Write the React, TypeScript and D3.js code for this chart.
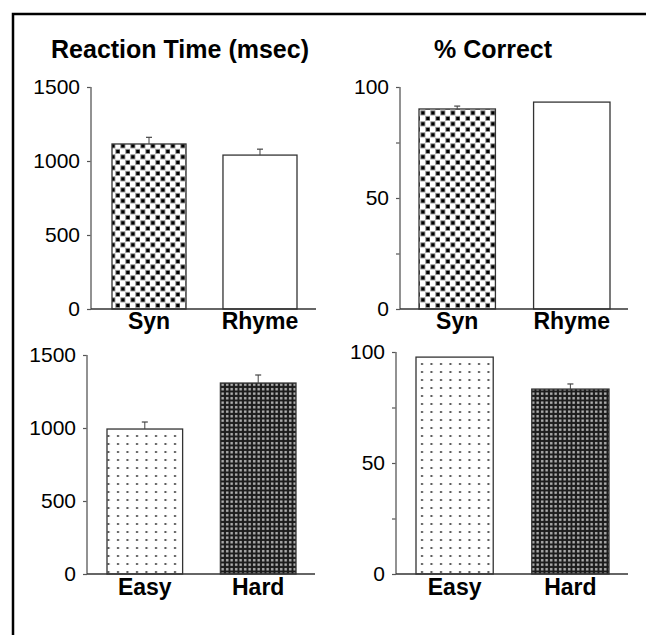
import * as d3 from "d3"
import { useEffect, useRef } from "react"

// data
const taskCats = ["Syn", "Rhyme"]
const diffCats = ["Easy", "Hard"]
const rtTaskVals = [1115, 1040]
const rtTaskErr = [45, 40]
const pcTaskVals = [90.1, 93.2]
const pcTaskErr = [1.3, 0]
const rtDiffVals = [993, 1308]
const rtDiffErr = [48, 55]
const pcDiffVals = [97.7, 83.3]
const pcDiffErr = [0, 2.3]
const rtTicks = [0, 500, 1000, 1500]
const pcTicks = [0, 25, 50, 75, 100]
const pcLabeled = [0, 50, 100]

export default function App() {
  const ref = useRef<SVGSVGElement>(null)

  useEffect(() => {
    const svg = d3.select(ref.current)
    svg.selectAll("*").remove()

    const defs = svg.append("defs")

    // Syn: staggered black squares
    const p1 = defs.append("pattern").attr("id", "pSyn")
      .attr("patternUnits", "userSpaceOnUse").attr("width", 10).attr("height", 11)
    p1.append("rect").attr("width", 10).attr("height", 11).attr("fill", "#fff")
    p1.append("rect").attr("x", 0.8).attr("y", 0.8).attr("width", 4.2).attr("height", 4.2)
      .attr("fill", "#000").attr("stroke", "#999").attr("stroke-width", 0.9)
    p1.append("rect").attr("x", 5.8).attr("y", 6.3).attr("width", 4.2).attr("height", 4.2)
      .attr("fill", "#000").attr("stroke", "#999").attr("stroke-width", 0.9)

    // Easy: sparse dots
    const p2 = defs.append("pattern").attr("id", "pEasy")
      .attr("patternUnits", "userSpaceOnUse").attr("width", 9.5).attr("height", 8)
    p2.append("rect").attr("width", 9.5).attr("height", 8).attr("fill", "#fff")
    p2.append("rect").attr("x", 3).attr("y", 3).attr("width", 2).attr("height", 2).attr("fill", "#555")

    // Hard: dense dark grid
    const p3 = defs.append("pattern").attr("id", "pHard")
      .attr("patternUnits", "userSpaceOnUse").attr("width", 4.5).attr("height", 4.5)
    p3.append("rect").attr("width", 4.5).attr("height", 4.5).attr("fill", "#1c1c1c")
    p3.append("rect").attr("x", 1).attr("y", 1).attr("width", 2.4).attr("height", 2.4).attr("fill", "#b8b8b8")

    const font = "Liberation Sans, Arial, Helvetica, sans-serif"

    // frame (cropped on right/bottom)
    svg.append("path").attr("d", "M13,700V14H700")
      .attr("fill", "none").attr("stroke", "#000").attr("stroke-width", 2.5)

    svg.append("text").attr("x", 180).attr("y", 58).attr("text-anchor", "middle")
      .attr("font-family", font).attr("font-weight", "bold").attr("font-size", 25)
      .text("Reaction Time (msec)")
    svg.append("text").attr("x", 493).attr("y", 58).attr("text-anchor", "middle")
      .attr("font-family", font).attr("font-weight", "bold").attr("font-size", 25)
      .text("% Correct")

    const panels = [
      { cats: taskCats, vals: rtTaskVals, err: rtTaskErr, max: 1500, ticks: rtTicks, labeled: rtTicks,
        axisX: 91, top: 87, zero: 309, xEnd: 316, bars: [112, 297], fills: ["url(#pSyn)", "#fff"], labY: 329 },
      { cats: taskCats, vals: pcTaskVals, err: pcTaskErr, max: 100, ticks: pcTicks, labeled: pcLabeled,
        axisX: 400, top: 87, zero: 309, xEnd: 628, bars: [419, 610], fills: ["url(#pSyn)", "#fff"], labY: 329 },
      { cats: diffCats, vals: rtDiffVals, err: rtDiffErr, max: 1500, ticks: rtTicks, labeled: rtTicks,
        axisX: 87, top: 355, zero: 574, xEnd: 315, bars: [107, 296], fills: ["url(#pEasy)", "url(#pHard)"], labY: 595 },
      { cats: diffCats, vals: pcDiffVals, err: pcDiffErr, max: 100, ticks: pcTicks, labeled: pcLabeled,
        axisX: 396, top: 352, zero: 574, xEnd: 628, bars: [416, 609], fills: ["url(#pEasy)", "url(#pHard)"], labY: 595 },
    ]

    panels.forEach(p => {
      const g = svg.append("g")
      const y = d3.scaleLinear().domain([0, p.max]).range([p.zero, p.top])
      const x = d3.scaleBand().domain(p.cats).range(p.bars).paddingInner(0.333).paddingOuter(0)

      const data = p.cats.map((c, i) => ({ c, v: p.vals[i], e: p.err[i], f: p.fills[i] }))

      g.selectAll("rect.bar").data(data).enter().append("rect")
        .attr("class", "bar")
        .attr("x", d => x(d.c)!)
        .attr("width", x.bandwidth())
        .attr("y", d => y(d.v))
        .attr("height", d => p.zero - y(d.v))
        .attr("fill", d => d.f)
        .attr("stroke", "#333").attr("stroke-width", 1.3)

      // error bars
      const eb = g.selectAll("g.err").data(data.filter(d => d.e > 0)).enter().append("g")
      eb.append("line")
        .attr("x1", d => x(d.c)! + x.bandwidth() / 2).attr("x2", d => x(d.c)! + x.bandwidth() / 2)
        .attr("y1", d => y(d.v)).attr("y2", d => y(d.v + d.e))
        .attr("stroke", "#444").attr("stroke-width", 1)
      eb.append("line")
        .attr("x1", d => x(d.c)! + x.bandwidth() / 2 - 3).attr("x2", d => x(d.c)! + x.bandwidth() / 2 + 3)
        .attr("y1", d => y(d.v + d.e)).attr("y2", d => y(d.v + d.e))
        .attr("stroke", "#444").attr("stroke-width", 1.2)

      // y axis
      const ax = g.append("g").attr("transform", `translate(${p.axisX},0)`)
        .call(d3.axisLeft(y).tickValues(p.ticks).tickSize(4).tickPadding(7)
          .tickFormat(d => (p.labeled.includes(d as number) ? String(d) : "")))
      ax.select(".domain").remove()
      ax.append("line").attr("x1", 0).attr("x2", 0).attr("y1", p.top).attr("y2", p.zero)
        .attr("stroke", "#777").attr("stroke-width", 1.6)
      ax.selectAll(".tick line").attr("stroke", "#555").attr("stroke-width", 1.2)
      ax.selectAll(".tick text").attr("font-family", font).attr("font-size", 21).attr("fill", "#000")

      // x axis line
      g.append("line").attr("x1", p.axisX).attr("x2", p.xEnd).attr("y1", p.zero).attr("y2", p.zero)
        .attr("stroke", "#333").attr("stroke-width", 1.5)

      g.selectAll("text.cat").data(p.cats).enter().append("text")
        .attr("class", "cat")
        .attr("x", d => x(d)! + x.bandwidth() / 2)
        .attr("y", p.labY)
        .attr("text-anchor", "middle")
        .attr("font-family", font).attr("font-weight", "bold").attr("font-size", 23)
        .text(d => d)
    })
  }, [])

  return (
    <svg ref={ref} width={646} height={635}
      style={{ position: "absolute", left: 0, top: 0, background: "#fff" }} />
  )
}
